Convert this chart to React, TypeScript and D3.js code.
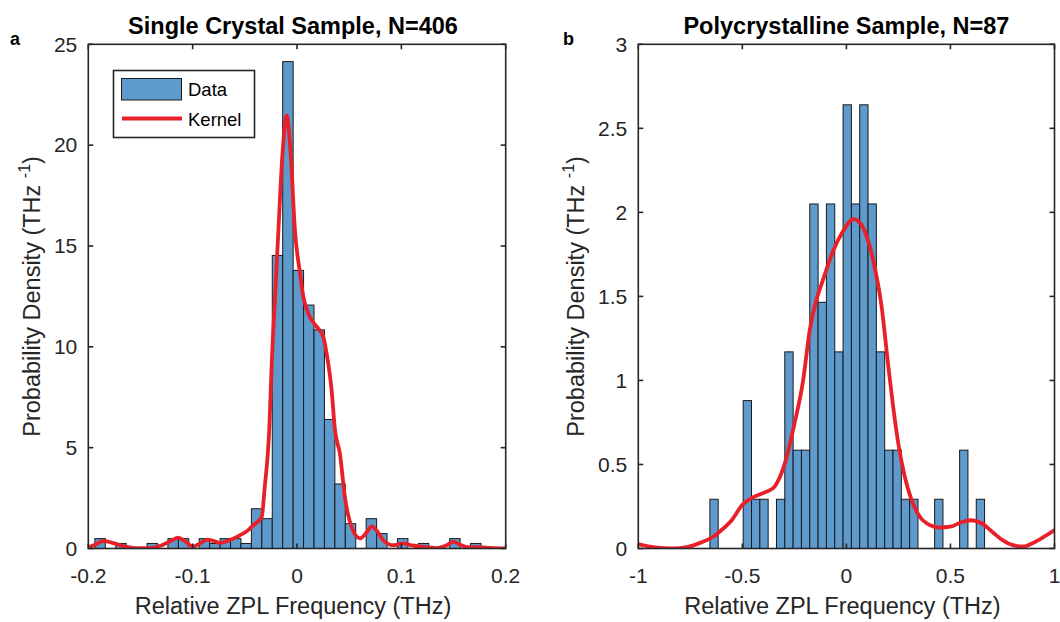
import React from "react";
import * as d3 from "d3";

// ---------- Data: panel a (single crystal) ----------
const leftBinStart = -0.1937; // THz, left edge of first bin
const leftBinWidth = 0.01; // THz
const leftDensity = [
  0.49, 0, 0.25, 0, 0, 0.25, 0, 0.49, 0.49, 0, 0.49, 0.25, 0.49, 0.49, 0.25,
  1.97, 1.48, 14.53, 24.14, 13.79, 12.07, 10.84, 6.4, 3.2, 1.23, 0, 1.48, 0.74,
  0, 0.49, 0, 0.25, 0, 0, 0.49, 0, 0.25,
];
const leftKernelX = [
  -0.2, -0.193, -0.185, -0.175, -0.165, -0.155, -0.145, -0.13, -0.12, -0.114,
  -0.107, -0.1, -0.093, -0.086, -0.08, -0.074, -0.065, -0.055, -0.047, -0.042,
  -0.0338, -0.031, -0.0265, -0.0242, -0.021, -0.0178, -0.014, -0.0098, -0.006,
  -0.002, 0.003, 0.006, 0.0108, 0.0188, 0.0252, 0.0284, 0.0332, 0.0364, 0.0411,
  0.0459, 0.0523, 0.0603, 0.066, 0.0715, 0.077, 0.0826, 0.0922, 0.1017, 0.11,
  0.1177, 0.134, 0.143, 0.1497, 0.156, 0.163, 0.175, 0.185, 0.2,
];
const leftKernelY = [
  0.05, 0.2, 0.38, 0.25, 0.1, 0.02, 0.02, 0.15, 0.4, 0.54, 0.35, 0.1, 0.25,
  0.44, 0.38, 0.28, 0.4, 0.65, 0.9, 1.15, 1.57, 3.0, 6.0, 9.2, 12.5, 15.8,
  19.5, 21.47, 19.5, 15.8, 13.6, 12.5, 11.65, 11.0, 10.5, 9.66, 7.84, 5.86,
  4.71, 2.56, 1.07, 0.5, 0.75, 1.1, 0.85, 0.41, 0.16, 0.25, 0.15, 0.1, 0.02,
  0.15, 0.33, 0.2, 0.07, 0.07, 0.03, 0.0,
];
const leftXTicks = [-0.2, -0.1, 0, 0.1, 0.2];
const leftXTickLabels = ["-0.2", "-0.1", "0", "0.1", "0.2"];
const leftYTicks = [0, 5, 10, 15, 20, 25];
const leftYTickLabels = ["0", "5", "10", "15", "20", "25"];

// ---------- Data: panel b (polycrystalline) ----------
const rightBinStart = -0.656;
const rightBinWidth = 0.04;
const rightDensity = [
  0.293, 0, 0, 0, 0.88, 0.293, 0.293, 0, 0.293, 1.17, 0.585, 0.585, 2.05, 1.465,
  2.05, 1.17, 2.64, 2.05, 2.64, 2.05, 1.17, 0.585, 0.585, 0.293, 0.293, 0, 0,
  0.293, 0, 0, 0.585, 0, 0.293,
];
const rightKernelX = [
  -1, -0.92, -0.84, -0.76, -0.7, -0.64, -0.6, -0.55, -0.5, -0.456, -0.42, -0.38,
  -0.344, -0.3, -0.25, -0.208, -0.176, -0.144, -0.112, -0.064, -0.02, 0.035,
  0.07, 0.112, 0.14, 0.168, 0.2, 0.224, 0.25, 0.28, 0.31, 0.352, 0.4, 0.447,
  0.5, 0.55, 0.6, 0.65, 0.7, 0.75, 0.8, 0.85, 0.9, 0.95, 1.0,
];
const rightKernelY = [
  0.026, 0.006, 0.0, 0.01, 0.035, 0.07, 0.11, 0.17, 0.26, 0.3, 0.32, 0.34, 0.37,
  0.49, 0.74, 1.0, 1.3, 1.48, 1.6, 1.77, 1.88, 1.96, 1.93, 1.8, 1.65, 1.45, 1.1,
  0.85, 0.62, 0.43, 0.3, 0.19, 0.14, 0.125, 0.13, 0.155, 0.168, 0.15, 0.1, 0.05,
  0.02, 0.012, 0.035, 0.07, 0.11,
];
const rightXTicks = [-1, -0.5, 0, 0.5, 1];
const rightXTickLabels = ["-1", "-0.5", "0", "0.5", "1"];
const rightYTicks = [0, 0.5, 1, 1.5, 2, 2.5, 3];
const rightYTickLabels = ["0", "0.5", "1", "1.5", "2", "2.5", "3"];

const titles = ["Single Crystal Sample, N=406", "Polycrystalline Sample, N=87"];
const panelLetters = ["a", "b"];
const xLabel = "Relative ZPL Frequency (THz)";
const legendLabels = ["Data", "Kernel"];

// ---------- styling ----------
const FONT = "'Liberation Sans', Arial, Helvetica, sans-serif";
const AXIS = "#262626";
const BAR = "rgb(94,154,204)";
const RED = "#E8202A";
const TICK_FS = 21;
const LABEL_FS = 23.5;
const TITLE_FS = 23.5;

type PanelProps = {
  id: string;
  x0: number;
  x1: number;
  y0: number;
  y1: number;
  xDomain: [number, number];
  yDomain: [number, number];
  binStart: number;
  binWidth: number;
  density: number[];
  kx: number[];
  ky: number[];
  xTicks: number[];
  xTickLabels: string[];
  yTicks: number[];
  yTickLabels: string[];
  title: string;
  titleShift: number;
  letter: string;
  letterX: number;
  yLabelX: number;
  legend: boolean;
};

function Panel(p: PanelProps) {
  const x = d3.scaleLinear().domain(p.xDomain).range([p.x0, p.x1]);
  const y = d3.scaleLinear().domain(p.yDomain).range([p.y1, p.y0]);
  const bars = p.density
    .map((d, i) => ({
      a: p.binStart + i * p.binWidth,
      b: p.binStart + (i + 1) * p.binWidth,
      d,
    }))
    .filter((b) => b.d > 0);
  const pts: [number, number][] = p.kx.map((v, i) => [v, p.ky[i]]);
  const line = d3
    .line<[number, number]>()
    .x((d) => x(d[0]))
    .y((d) => y(d[1]))
    .curve(d3.curveMonotoneX);
  const tl = 5;
  const cx = (p.x0 + p.x1) / 2;
  const cy = (p.y0 + p.y1) / 2;
  return (
    <g>
      <defs>
        <clipPath id={p.id}>
          <rect x={p.x0} y={p.y0} width={p.x1 - p.x0} height={p.y1 - p.y0} />
        </clipPath>
      </defs>
      <g clipPath={`url(#${p.id})`}>
        {bars.map((b, i) => (
          <rect
            key={i}
            x={x(b.a)}
            y={y(b.d)}
            width={x(b.b) - x(b.a)}
            height={y(0) - y(b.d)}
            fill={BAR}
            stroke="#1a1a1a"
            strokeWidth={1}
          />
        ))}
        <path d={line(pts) || ""} fill="none" stroke={RED} strokeWidth={3.8} strokeLinejoin="round" />
      </g>
      <rect
        x={p.x0}
        y={p.y0}
        width={p.x1 - p.x0}
        height={p.y1 - p.y0}
        fill="none"
        stroke={AXIS}
        strokeWidth={1.6}
      />
      {p.xTicks.map((t, i) => (
        <g key={"xt" + i}>
          <line x1={x(t)} x2={x(t)} y1={p.y1} y2={p.y1 - tl} stroke={AXIS} strokeWidth={1.6} />
          <line x1={x(t)} x2={x(t)} y1={p.y0} y2={p.y0 + tl} stroke={AXIS} strokeWidth={1.6} />
          <text
            x={x(t)}
            y={p.y1 + 34}
            textAnchor="middle"
            fontFamily={FONT}
            fontSize={TICK_FS}
            fill={AXIS}
          >
            {p.xTickLabels[i]}
          </text>
        </g>
      ))}
      {p.yTicks.map((t, i) => (
        <g key={"yt" + i}>
          <line x1={p.x0} x2={p.x0 + tl} y1={y(t)} y2={y(t)} stroke={AXIS} strokeWidth={1.6} />
          <line x1={p.x1} x2={p.x1 - tl} y1={y(t)} y2={y(t)} stroke={AXIS} strokeWidth={1.6} />
          <text
            x={p.x0 - 11}
            y={y(t)}
            dy="0.35em"
            textAnchor="end"
            fontFamily={FONT}
            fontSize={TICK_FS}
            fill={AXIS}
          >
            {p.yTickLabels[i]}
          </text>
        </g>
      ))}
      <text
        x={cx - 4}
        y={614}
        textAnchor="middle"
        fontFamily={FONT}
        fontSize={LABEL_FS}
        fill={AXIS}
      >
        {xLabel}
      </text>
      <text
        transform={`translate(${p.yLabelX},${cy}) rotate(-90)`}
        textAnchor="middle"
        fontFamily={FONT}
        fontSize={LABEL_FS}
        fill={AXIS}
      >
        <tspan>Probability Density (THz </tspan>
        <tspan dy={-10} fontSize={16}>
          -1
        </tspan>
        <tspan dy={10}>)</tspan>
      </text>
      <text
        x={cx + p.titleShift}
        y={34}
        textAnchor="middle"
        fontFamily={FONT}
        fontSize={TITLE_FS}
        fontWeight="bold"
        fill="#000"
      >
        {p.title}
      </text>
      <text x={p.letterX} y={45} fontFamily={FONT} fontSize={18} fontWeight="bold" fill="#000">
        {p.letter}
      </text>
      {p.legend && (
        <g>
          <rect x={113.5} y={70.5} width={141} height={67} fill="#fff" stroke={AXIS} strokeWidth={1.6} />
          <rect x={121.5} y={78.5} width={60} height={21.5} fill={BAR} stroke="#1a1a1a" strokeWidth={1} />
          <line x1={122} x2={182} y1={118.5} y2={118.5} stroke={RED} strokeWidth={3.8} />
          <text x={188} y={96} fontFamily={FONT} fontSize={18.5} fill="#000">
            {legendLabels[0]}
          </text>
          <text x={188} y={126} fontFamily={FONT} fontSize={18.5} fill="#000">
            {legendLabels[1]}
          </text>
        </g>
      )}
    </g>
  );
}

export default function App() {
  return (
    <svg
      width={1060}
      height={622}
      style={{ position: "absolute", left: 0, top: 0, background: "#fff" }}
    >
      <rect x={0} y={0} width={1060} height={622} fill="#fff" />
      <Panel
        id="clipA"
        x0={88.3}
        x1={505.7}
        y0={44.3}
        y1={548.5}
        xDomain={[-0.2, 0.2]}
        yDomain={[0, 25]}
        binStart={leftBinStart}
        binWidth={leftBinWidth}
        density={leftDensity}
        kx={leftKernelX}
        ky={leftKernelY}
        xTicks={leftXTicks}
        xTickLabels={leftXTickLabels}
        yTicks={leftYTicks}
        yTickLabels={leftYTickLabels}
        title={titles[0]}
        titleShift={-4}
        letter={panelLetters[0]}
        letterX={10}
        yLabelX={40}
        legend={true}
      />
      <Panel
        id="clipB"
        x0={638.3}
        x1={1054.5}
        y0={44.3}
        y1={548.5}
        xDomain={[-1, 1]}
        yDomain={[0, 3]}
        binStart={rightBinStart}
        binWidth={rightBinWidth}
        density={rightDensity}
        kx={rightKernelX}
        ky={rightKernelY}
        xTicks={rightXTicks}
        xTickLabels={rightXTickLabels}
        yTicks={rightYTicks}
        yTickLabels={rightYTickLabels}
        title={titles[1]}
        titleShift={0}
        letter={panelLetters[1]}
        letterX={563}
        yLabelX={584}
        legend={false}
      />
    </svg>
  );
}
